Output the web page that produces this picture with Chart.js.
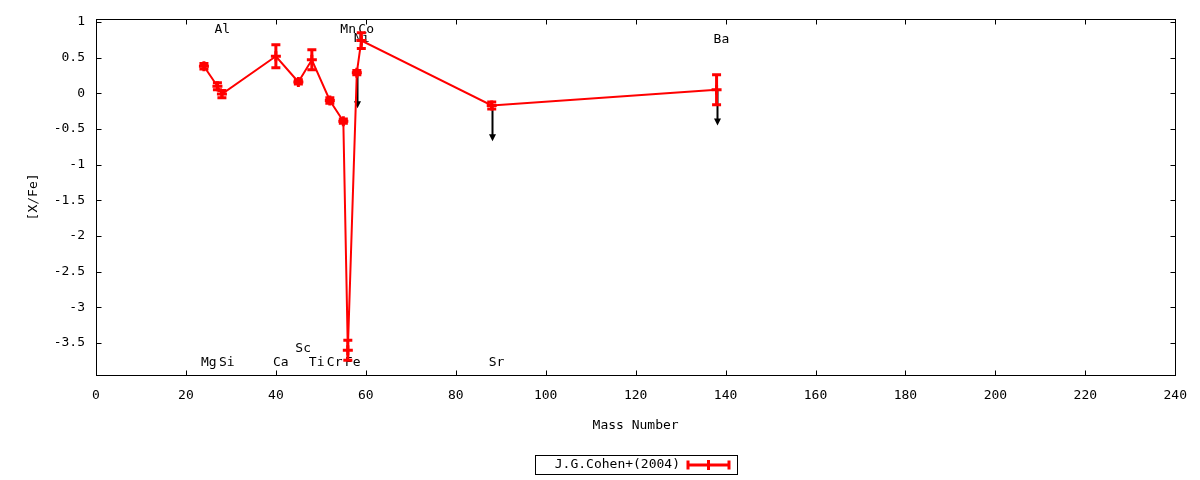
<!DOCTYPE html>
<html>
<head>
<meta charset="utf-8">
<script src="https://cdn.jsdelivr.net/npm/chart.js@4/dist/chart.umd.min.js"></script>
<style>
  html, body { margin: 0; padding: 0; background: #fff; }
  #wrap { width: 1200px; height: 480px; position: relative; }
</style>
</head>
<body>
<div id="wrap"><canvas id="c" width="1200" height="480"></canvas></div>
<script>
// ---- data ----
const elements   = ['Mg', 'Al', 'Si', 'Ca', 'Sc', 'Ti', 'Cr', 'Mn', 'Fe', 'Ni', 'Co', 'Sr', 'Ba'];
const massNumber = [24, 27, 28, 40, 45, 48, 52, 55, 56, 58, 59, 88, 138];
const xFe        = [0.38, 0.10, -0.01, 0.52, 0.16, 0.47, -0.10, -0.39, -3.60, 0.29, 0.74, -0.17, 0.05];
const xFeErr     = [0.04, 0.05, 0.05, 0.16, 0.03, 0.14, 0.04, 0.03, 0.14, 0.03, 0.11, 0.05, 0.21];
const upperLimit = [false, false, false, false, false, false, false, false, false, true, false, true, true];
const limitArrowLength = 0.5;

// element name annotations (mass number, [X/Fe] position)
const labelNames = ['Mg', 'Al', 'Si', 'Ca', 'Sc', 'Ti', 'Cr', 'Fe', 'Mn', 'Co', 'Ni', 'Sr', 'Ba'];
const labelMass  = [24, 27, 28, 40, 45, 48, 52, 56, 55, 59, 58, 88, 138];
const labelValue = [-3.78, 0.90, -3.78, -3.78, -3.58, -3.78, -3.78, -3.78, 0.90, 0.90, 0.77, -3.78, 0.76];

const xTicks = [0, 20, 40, 60, 80, 100, 120, 140, 160, 180, 200, 220, 240];
const yTicks = [1, 0.5, 0, -0.5, -1, -1.5, -2, -2.5, -3, -3.5];
const seriesLabel = 'J.G.Cohen+(2004)';

// ---- styles ----
const RED = 'rgb(255,0,0)';
const FONT = '"DejaVu Sans Mono", "Liberation Mono", monospace';
const FS = 13;

const points = massNumber.map((m, i) => ({ x: m, y: xFe[i] }));

const frame = {
  id: 'frame',
  beforeDatasetsDraw(chart) {
    const { ctx, chartArea: a, scales: { x, y } } = chart;
    ctx.save();
    // element labels
    ctx.fillStyle = '#000';
    ctx.font = FS + 'px ' + FONT;
    ctx.textAlign = 'left';
    ctx.textBaseline = 'middle';
    labelNames.forEach((n, i) => {
      ctx.fillText(n, x.getPixelForValue(labelMass[i]) - 3, y.getPixelForValue(labelValue[i]));
    });
    // upper-limit arrows
    ctx.strokeStyle = '#000';
    ctx.fillStyle = '#000';
    ctx.lineWidth = 2;
    massNumber.forEach((m, i) => {
      if (!upperLimit[i]) return;
      const px = Math.round(x.getPixelForValue(m)) + 0.5;
      const y0 = y.getPixelForValue(xFe[i]);
      const y1 = y.getPixelForValue(xFe[i] - limitArrowLength);
      ctx.beginPath();
      ctx.moveTo(px, y0);
      ctx.lineTo(px, y1 - 4);
      ctx.stroke();
      ctx.beginPath();
      ctx.moveTo(px - 3.5, y1 - 7);
      ctx.lineTo(px + 3.5, y1 - 7);
      ctx.lineTo(px, y1);
      ctx.closePath();
      ctx.fill();
    });
    ctx.restore();
  },
  afterDatasetsDraw(chart) {
    const { ctx, chartArea: a, scales: { x, y } } = chart;
    ctx.save();
    // error bars
    ctx.strokeStyle = RED;
    ctx.lineWidth = 3;
    massNumber.forEach((m, i) => {
      const px = x.getPixelForValue(m);
      const yt = y.getPixelForValue(xFe[i] + xFeErr[i]);
      const yb = y.getPixelForValue(xFe[i] - xFeErr[i]);
      ctx.beginPath();
      ctx.moveTo(px, yt); ctx.lineTo(px, yb);
      ctx.moveTo(px - 4.5, yt); ctx.lineTo(px + 4.5, yt);
      ctx.moveTo(px - 4.5, yb); ctx.lineTo(px + 4.5, yb);
      ctx.stroke();
    });
    ctx.restore();

    ctx.save();
    // border
    ctx.strokeStyle = '#000';
    ctx.lineWidth = 1;
    const L = Math.round(a.left) + 0.5, R = Math.round(a.right) + 0.5;
    const T = Math.round(a.top) + 0.5, B = Math.round(a.bottom) + 0.5;
    ctx.strokeRect(L, T, R - L, B - T);
    // inward ticks (mirrored)
    const tl = 5;
    ctx.beginPath();
    x.ticks.forEach(t => {
      const px = Math.round(x.getPixelForValue(t.value)) + 0.5;
      ctx.moveTo(px, B); ctx.lineTo(px, B - tl);
      ctx.moveTo(px, T); ctx.lineTo(px, T + tl);
    });
    y.ticks.forEach(t => {
      const py = Math.round(y.getPixelForValue(t.value)) + 0.5;
      ctx.moveTo(L, py); ctx.lineTo(L + tl, py);
      ctx.moveTo(R, py); ctx.lineTo(R - tl, py);
    });
    ctx.stroke();
    ctx.restore();
  },
  afterDraw(chart) {
    const { ctx } = chart;
    const ds = chart.data.datasets[0];
    ctx.save();
    ctx.strokeStyle = '#000';
    ctx.lineWidth = 1;
    ctx.strokeRect(535.5, 455.5, 202, 19);
    ctx.fillStyle = '#000';
    ctx.font = FS + 'px ' + FONT;
    ctx.textAlign = 'right';
    ctx.textBaseline = 'middle';
    ctx.fillText(ds.label, 680, 465);
    const ly = 465, x0 = 688, x1 = 729;
    ctx.strokeStyle = ds.borderColor;
    ctx.lineWidth = 3;
    ctx.beginPath();
    ctx.moveTo(x0, ly); ctx.lineTo(x1, ly);
    ctx.moveTo(x0, ly - 4.5); ctx.lineTo(x0, ly + 4.5);
    ctx.moveTo(x1, ly - 4.5); ctx.lineTo(x1, ly + 4.5);
    const xm = (x0 + x1) / 2;
    ctx.moveTo(xm, ly - 5); ctx.lineTo(xm, ly + 5);
    ctx.stroke();
    ctx.restore();
  }
};

new Chart(document.getElementById('c'), {
  type: 'line',
  data: {
    datasets: [{
      label: seriesLabel,
      data: points,
      borderColor: RED,
      backgroundColor: RED,
      borderWidth: 2,
      tension: 0,
      pointStyle: 'cross',
      pointRadius: 5,
      pointBorderWidth: 3,
      pointBorderColor: RED,
      pointHoverRadius: 5
    }]
  },
  options: {
    responsive: false,
    animation: false,
    events: [],
    layout: { padding: { left: 0, right: 23, top: 17, bottom: 0 } },
    plugins: { legend: { display: false }, tooltip: { enabled: false } },
    scales: {
      x: {
        type: 'linear',
        min: 0, max: 240,
        afterBuildTicks: s => { s.ticks = xTicks.map(v => ({ value: v })); },
        afterFit: s => { s.height = 105; },
        grid: { display: false, drawTicks: false },
        border: { display: false },
        ticks: { padding: 13, color: '#000', font: { family: FONT, size: FS }, callback: v => String(v), maxRotation: 0, autoSkip: false },
        title: { display: true, text: 'Mass Number', color: '#000', font: { family: FONT, size: FS }, padding: { top: 0, bottom: 47 } }
      },
      y: {
        type: 'linear',
        min: -3.947, max: 1.045,
        afterBuildTicks: s => { s.ticks = yTicks.map(v => ({ value: v })); },
        afterFit: s => { s.width = 96; },
        grid: { display: false, drawTicks: false },
        border: { display: false },
        ticks: { padding: 11, color: '#000', font: { family: FONT, size: FS }, callback: v => String(v), autoSkip: false },
        title: { display: true, text: '[X/Fe]', color: '#000', font: { family: FONT, size: FS }, padding: { top: 26, bottom: 0 } }
      }
    }
  },
  plugins: [frame]
});
</script>
</body>
</html>
